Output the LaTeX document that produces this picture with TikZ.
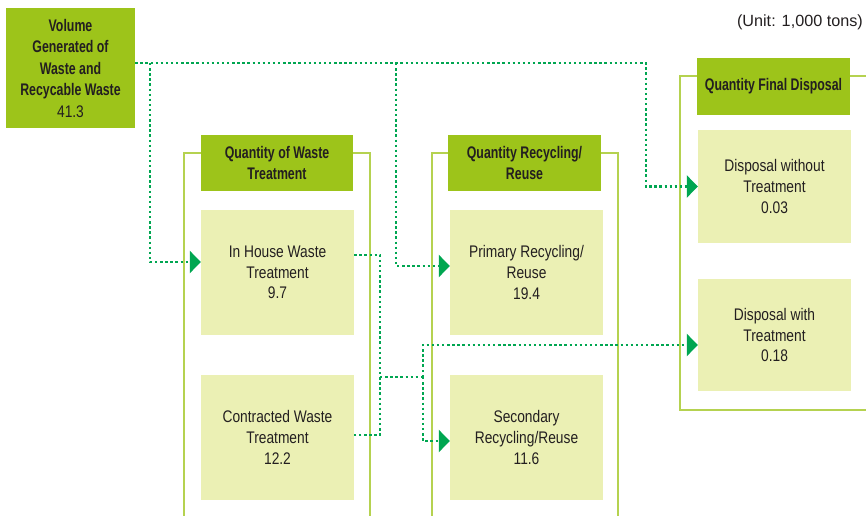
\documentclass[tikz,border=0pt]{standalone}
\usepackage{fontspec}
\setmainfont{Liberation Sans}[FakeStretch=0.82, BoldFeatures={FakeStretch=0.735}]
\newfontfamily\unitfont{Liberation Sans}
\usetikzlibrary{arrows.meta}
\definecolor{hdrgreen}{RGB}{157,196,26}
\definecolor{cellfill}{RGB}{235,240,180}
\definecolor{framec}{RGB}{181,210,80}
\definecolor{dotg}{RGB}{0,166,81}
\definecolor{txt}{RGB}{35,31,32}
\begin{document}
\begin{tikzpicture}[x=1pt,y=-1pt,
 hdr/.style={fill=hdrgreen, draw=none, inner sep=0pt, align=center, font=\bfseries\fontsize{16.8}{21}\selectfont, text=txt},
 cell/.style={fill=cellfill, draw=none, inner sep=0pt, align=center, font=\fontsize{16.8}{20.7}\selectfont, text=txt, minimum width=153pt, minimum height=125pt},
 frame/.style={draw=framec, line width=2pt},
 flow/.style={draw=dotg, line width=2.4pt, dash pattern=on 2.4pt off 2.7pt},
 tip/.style={-{Triangle[length=11pt,width=22pt,fill=dotg]}}]
\useasboundingbox (0,0) rectangle (866,515);
\clip (0,0) rectangle (866,515);
% frames
\draw[frame] (184,520) -- (184,153) -- (370,153) -- (370,520);
\draw[frame] (432,520) -- (432,153) -- (618,153) -- (618,520);
\draw[frame] (870,76) -- (680,76) -- (680,410) -- (870,410);
% source
\node[hdr, minimum width=129pt, minimum height=120pt, font=\bfseries\fontsize{16.8}{21.5}\selectfont] (src) at (70.5,68) {Volume\\Generated of\\Waste and\\Recycable Waste\\{\mdseries 41.3}};
% group 1
\node[hdr, minimum width=152pt, minimum height=56pt] (h1) at (277,163) {Quantity of Waste\\Treatment};
\node[cell] (c11) at (277.5,272.5) {In House Waste\\Treatment\\9.7};
\node[cell] (c12) at (277.5,437.5) {Contracted Waste\\Treatment\\12.2};
% group 2
\node[hdr, minimum width=153pt, minimum height=56pt] (h2) at (524.5,163) {Quantity Recycling/\\Reuse};
\node[cell] (c21) at (526.5,272.5) {Primary Recycling/\\Reuse\\19.4};
\node[cell] (c22) at (526.5,437.5) {Secondary\\Recycling/Reuse\\11.6};
% group 3
\node[hdr, minimum width=153pt, minimum height=57pt] (h3) at (773.5,86.5) {Quantity Final Disposal};
\node[cell, minimum height=113pt] (c31) at (774.5,186.5) {Disposal without\\Treatment\\0.03};
\node[cell, minimum height=112pt] (c32) at (774.5,335) {Disposal with\\Treatment\\0.18};
% unit
\node[anchor=east, inner sep=0pt, text=txt, font=\unitfont\fontsize{16.2}{18}\selectfont] (unit) at (863,22) {(Unit: 1,000 tons)};
% connectors
\coordinate (t1) at (646,63);
\coordinate (b1) at (150,63);
\coordinate (b2) at (396,63);
\coordinate (m1) at (380,377);
\coordinate (m2) at (423,377);
\draw[flow,tip] ([yshift=5pt]src.east) -- (t1) |- (c31.west);
\draw[flow,tip] (b1) |- ([yshift=10.5pt]c11.west);
\draw[flow,tip] (b2) |- ([yshift=6.5pt]c21.west);
\draw[flow] ([yshift=17.5pt]c11.east) -| (m1) |- ([yshift=2.5pt]c12.east);
\draw[flow] (m1) -- (m2);
\draw[flow,tip] (m2) |- ([yshift=-10pt]c32.west);
\draw[flow,tip] (m2) |- ([yshift=-3.5pt]c22.west);
\end{tikzpicture}
\end{document}
